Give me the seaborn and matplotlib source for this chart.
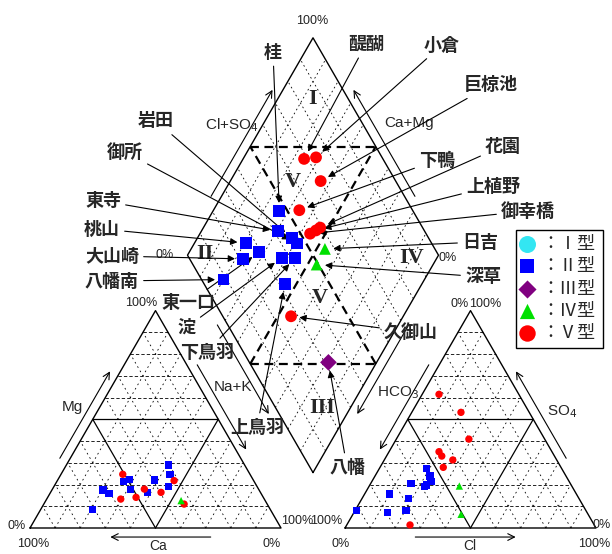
import numpy as np
import pandas as pd
import matplotlib
matplotlib.use("Agg")
import matplotlib.pyplot as plt
import seaborn as sns
from matplotlib.patches import Rectangle

sns.set_theme(style="white")
plt.rcParams['font.family'] = ['Noto Sans CJK JP', 'DejaVu Sans']

# ---- diamond: every site, (Cl+SO4)% and (Ca+Mg)%
sites = ['桂', '東寺', '岩田', '御所', '桃山', '東一口', '大山崎', '淀', '下鳥羽', '八幡南', '上鳥羽',
         '醍醐', '小倉', '巨椋池', '下鴨', '花園', '上植野', '御幸橋', '久御山',
         '日吉', '深草', '八幡']
site_type = ['II'] * 11 + ['V'] * 8 + ['IV', 'IV', 'III']
clso4 = [46.7, 41.7, 45.5, 46.2, 26.0, 29.3, 21.4, 36.9, 42.2, 8.7, 32.3,
         68.6, 73.7, 70.1, 54.9, 59.2, 56.9, 53.8, 27.2,
         56.2, 49.3, 31.5]
camg = [73.5, 69.3, 62.5, 59.2, 79.6, 72.1, 76.9, 61.9, 56.5, 80.1, 54.6,
        75.7, 71.3, 64.0, 65.8, 53.5, 54.5, 56.1, 44.7,
        46.7, 46.4, 19.2]

# ---- cation triangle: Ca %, Mg %
cat_type = ['II'] * 11 + ['V'] * 7 + ['IV']
cat_ca = [30.4, 31.9, 39.4, 52.2, 49.2, 51.0, 45.2, 35.4, 62.1, 60.5, 70.9,
          50.7, 31.7, 45.5, 39.6, 57.2, 50.7, 33.1, 33.5]
cat_mg = [29.0, 24.7, 22.1, 21.3, 22.4, 17.8, 16.2, 19.0, 17.5, 16.0, 8.6,
          24.7, 21.8, 17.9, 16.4, 13.3, 14.1, 11.0, 12.6]

# ---- anion triangle: Cl %, SO4 %
an_type = ['II'] * 11 + ['V'] * 8 + ['IV'] * 2
an_cl = [18.8, 21.9, 23.6, 22.6, 22.1, 16.0, 9.8, 18.4, 0.7, 13.5, 20.3,
         6.7, 19.6, 28.9, 19.9, 22.0, 27.3, 25.2, 25.2,
         35.9, 43.1]
an_so4 = [27.5, 23.9, 21.3, 19.8, 19.0, 20.6, 15.6, 13.7, 8.0, 7.0, 8.0,
          61.5, 53.2, 40.9, 35.1, 33.1, 31.3, 27.9, 1.4,
          19.3, 6.3]

types = ['I', 'II', 'III', 'IV', 'V']
type_labels = ['Ⅰ', 'Ⅱ', 'Ⅲ', 'Ⅳ', 'Ⅴ']
pal = {'I': '#33e6f2', 'II': '#0000ff', 'III': '#800080', 'IV': '#00e000', 'V': '#ff0000'}
mk = {'I': 'o', 'II': 's', 'III': 'D', 'IV': '^', 'V': 'o'}

# geometry (triangle side = 100)
H = np.sqrt(3) / 2
GAP = 25.5
AX0 = 100 + GAP
BX, BY = 100 + GAP / 2, GAP * H


def P(px, py):
    # picture pixel -> data units
    return ((px - 30) / 2.51, (528 - py) / 2.51)


def cat_xy(ca, mg):
    ca, mg = np.asarray(ca), np.asarray(mg)
    na = 100 - ca - mg
    return na + 0.5 * mg, H * mg


def an_xy(cl, so4):
    cl, so4 = np.asarray(cl), np.asarray(so4)
    return AX0 + cl + 0.5 * so4, H * so4


def dia_xy(a, c):
    a, c = np.asarray(a), np.asarray(c)
    return BX + 0.5 * (a - c), BY + H * (a + c)


fig = plt.figure(figsize=(6.12, 5.54), dpi=100)
ax = fig.add_axes([0, 0, 1, 1])
x0, y0 = P(0, 554)
x1, y1 = P(612, 0)
ax.set_xlim(x0, x1)
ax.set_ylim(y0, y1)
ax.axis('off')

kw_grid = dict(color='black', lw=0.6, zorder=1)


def tri_grid(o):
    for k in range(10, 100, 10):
        if k == 50:
            st = dict(color='black', lw=0.9, ls='-', zorder=1)
            sd = st
        else:
            st = dict(kw_grid, ls=(0, (4, 2.5)))
            sd = dict(kw_grid, ls=(0, (2, 4)))
        ax.plot([o + 0.5 * k, o + 100 - 0.5 * k], [H * k, H * k], **st)
        ax.plot([o + k, o + k + 0.5 * (100 - k)], [0, H * (100 - k)], **sd)
        ax.plot([o + k, o + 0.5 * k], [0, H * k], **sd)
    ax.plot([o, o + 100, o + 50, o], [0, 0, 100 * H, 0], color='black', lw=1.0, zorder=2)


tri_grid(0)
tri_grid(AX0)

# diamond grid
for k in range(10, 100, 10):
    if k == 50:
        continue
    xa, ya = dia_xy([k, k], [0, 100])
    ax.plot(xa, ya, **dict(kw_grid, ls=(0, (2, 3.5))))
    xc, yc = dia_xy([0, 100], [k, k])
    ax.plot(xc, yc, **dict(kw_grid, ls=(0, (2, 3.5))))
thick = dict(color='black', lw=1.6, ls=(0, (4, 2.5)), zorder=2)
for a_s, c_s in [([50, 50], [0, 100]), ([0, 100], [50, 50]),
                 ([50, 100], [100, 50]), ([0, 50], [50, 0])]:
    xx, yy = dia_xy(a_s, c_s)
    ax.plot(xx, yy, **thick)
xd, yd = dia_xy([0, 0, 100, 100, 0], [0, 100, 100, 0, 0])
ax.plot(xd, yd, color='black', lw=1.0, zorder=2)


def edge_arrow(p0, p1, t0, t1, off):
    p0, p1 = np.array(p0, float), np.array(p1, float)
    d = p1 - p0
    n = np.array([-d[1], d[0]]) / np.hypot(*d)
    a = p0 + t0 * d + off * n
    b = p0 + t1 * d + off * n
    ax.annotate('', xy=b, xytext=a,
                arrowprops=dict(arrowstyle='->', color='black', lw=0.8,
                                shrinkA=0, shrinkB=0, mutation_scale=12))


OFF = 3.6
dl, dtop = dia_xy(0, 100), dia_xy(100, 100)
dr, dbot = dia_xy(100, 0), dia_xy(0, 0)
edge_arrow((0, 0), (50, 100 * H), 0.30, 0.70, OFF)                 # Mg
edge_arrow((100, 0), (0, 0), 0.28, 0.68, OFF)                      # Ca
edge_arrow((50, 100 * H), (100, 0), 0.27, 0.66, OFF)               # Na+K (cation)
edge_arrow((AX0, 0), (AX0 + 100, 0), 0.28, 0.68, -OFF)             # Cl
edge_arrow((AX0 + 100, 0), (AX0 + 50, 100 * H), 0.30, 0.70, -OFF)  # SO4
edge_arrow((AX0 + 50, 100 * H), (AX0, 0), 0.27, 0.66, -OFF)        # HCO3 (anion)
edge_arrow(dl, dtop, 0.25, 0.74, OFF)                              # Cl+SO4
edge_arrow(dr, dtop, 0.25, 0.74, -OFF)                             # Ca+Mg
edge_arrow(dl, dbot, 0.30, 0.71, -OFF)                             # Na+K
edge_arrow(dr, dbot, 0.30, 0.71, OFF)                              # HCO3

# ---- points
cx, cy = cat_xy(cat_ca, cat_mg)
df_c = pd.DataFrame({'x': cx, 'y': cy, 'type': cat_type})
ax_x, ax_y = an_xy(an_cl, an_so4)
df_a = pd.DataFrame({'x': ax_x, 'y': ax_y, 'type': an_type})
dx, dy = dia_xy(clso4, camg)
df_d = pd.DataFrame({'x': dx, 'y': dy, 'type': site_type, 'site': sites})

for df, size in [(df_c, 28), (df_a, 28), (df_d, 72)]:
    sns.scatterplot(data=df, x='x', y='y', hue='type', style='type', palette=pal,
                    markers=mk, s=size, linewidth=0, legend=False, ax=ax, zorder=5)
ax.set_xlim(x0, x1)
ax.set_ylim(y0, y1)
ax.set_xlabel('')
ax.set_ylabel('')

# ---- site labels with arrows
label_pos = {'桂': (273, 52), '醍醐': (366, 44), '小倉': (442, 45), '巨椋池': (491, 85),
             '岩田': (156, 121), '御所': (125, 152), '下鴨': (437, 160), '花園': (503, 146),
             '上植野': (493, 186), '東寺': (103, 201), '御幸橋': (528, 211), '桃山': (102, 229),
             '日吉': (480, 242), '大山崎': (112, 256), '深草': (483, 277), '八幡南': (112, 281),
             '東一口': (188, 303), '淀': (187, 327), '下鳥羽': (207, 352), '久御山': (411, 332),
             '上鳥羽': (257, 427), '八幡': (347, 467)}
for _, r in df_d.iterrows():
    ax.annotate(r['site'], xy=(r['x'], r['y']), xytext=P(*label_pos[r['site']]),
                ha='center', va='center', fontsize=13, fontweight='bold',
                family=['Noto Sans CJK JP'], zorder=4,
                arrowprops=dict(arrowstyle='-|>', color='black', lw=0.8,
                                mutation_scale=10, shrinkA=1, shrinkB=6))

# ---- region numerals
for t, (px, py) in [('I', (313, 99)), ('V', (293, 182)), ('II', (205, 254)),
                    ('IV', (412, 258)), ('V', (320, 298)), ('III', (322, 408))]:
    ax.text(*P(px, py), t, ha='center', va='center', fontsize=16,
            family=['Liberation Serif'], fontweight='bold')

# ---- axis names
axis_txt = [('Cl+SO$_4$', (232, 125)), ('Ca+Mg', (409, 123)), ('Na+K', (233, 387)),
            ('HCO$_3$', (398, 393)), ('Mg', (72, 407)), ('SO$_4$', (562, 412))]
for t, (px, py) in axis_txt:
    ax.text(*P(px, py), t, ha='center', va='center', fontsize=11,
            family=['Liberation Sans'])
for t, px in [('Ca', 158), ('Cl', 470)]:
    ax.text(*P(px, 553), t, ha='center', va='bottom', fontsize=10, family=['Liberation Sans'])

pct = [('100%', (312, 21)), ('0%', (165, 255)), ('0%', (448, 258)), ('100%', (141, 303)),
       ('0%', (460, 304)), ('100%', (485, 304)), ('0%', (17, 526)), ('100%', (33, 544)),
       ('100%', (297, 521)), ('100%', (326, 521)), ('0%', (272, 544)), ('0%', (341, 544)),
       ('0%', (602, 525)), ('100%', (594, 544))]
for t, (px, py) in pct:
    ax.text(*P(px, py), t, ha='center', va='center', fontsize=9,
            family=['Liberation Sans'], color='#222222')

# ---- legend
lx0, ly0 = P(516, 348)
lx1, ly1 = P(603, 230)
ax.add_patch(Rectangle((lx0, ly0), lx1 - lx0, ly1 - ly0, fill=False,
                       edgecolor='black', lw=1.0, zorder=6))
leg_size = {'I': 150, 'II': 90, 'III': 85, 'IV': 120, 'V': 140}
for i, (t, lab) in enumerate(zip(types, type_labels)):
    ry = 244 + i * 22.3
    ax.scatter(*P(527, ry), s=leg_size[t], marker=mk[t], color=pal[t], linewidths=0, zorder=7)
    ax.text(*P(541, ry), '：' + lab + '型', ha='left', va='center', fontsize=13,
            family=['Noto Sans CJK JP'], zorder=7)

fig.savefig('out.png', dpi=100)
